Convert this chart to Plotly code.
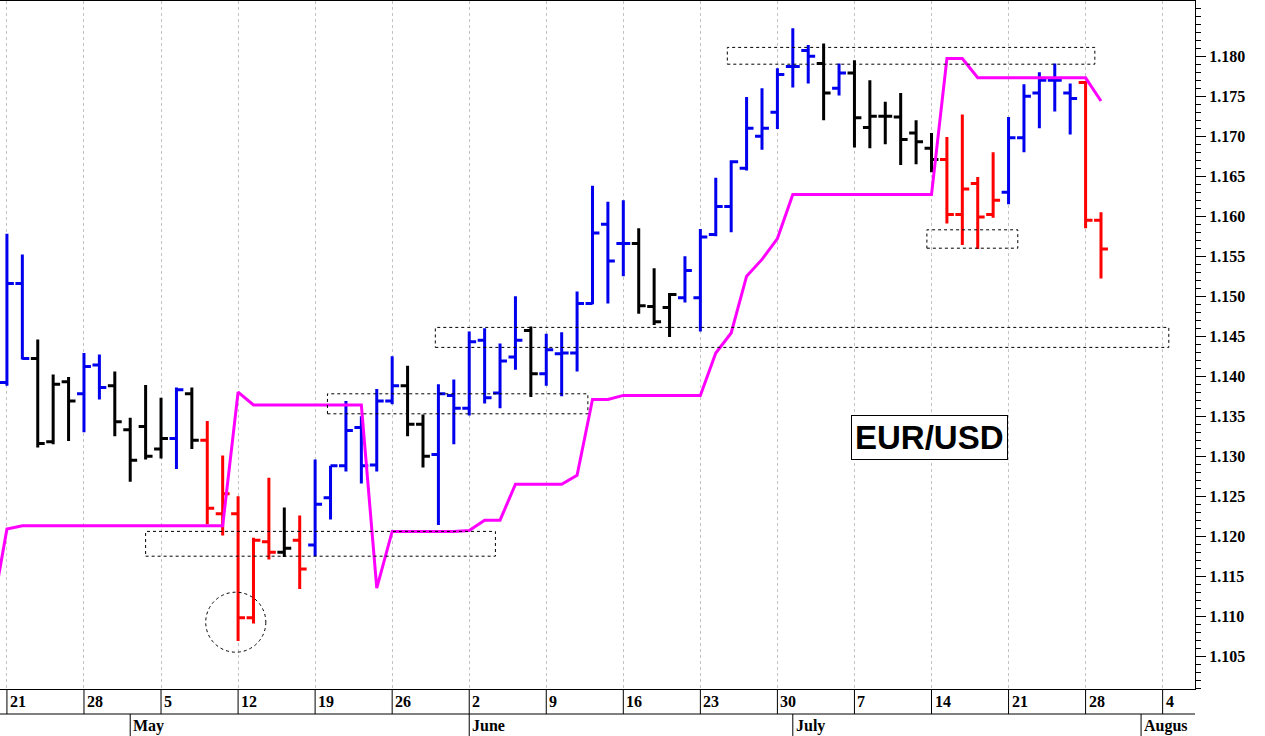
import plotly.graph_objects as go

# ---- data ----
opens = [1.1392,1.1516,1.1422,1.1318,1.1393,1.1378,1.1414,1.1388,1.1333,1.1337,
         1.1309,1.1322,1.1378,1.1320,1.1228,1.1228,1.1098,1.1193,1.1180,1.1195,
         1.1189,1.1248,1.1288,1.1336,1.1289,1.1369,1.1388,1.1340,1.1302,1.1376,
         1.1360,1.1445,1.1379,1.1424,1.1457,1.1403,1.1428,1.1429,1.1491,1.1590,
         1.1566,1.1566,1.1487,1.1486,1.1498,1.1498,1.1577,1.1612,1.1660,1.1700,
         1.1730,1.1787,1.1807,1.1791,1.1760,1.1779,1.1711,1.1725,1.1724,1.1704,
         1.1685,1.1671,1.1602,1.1641,1.1602,1.1630,1.1698,1.1754,1.1770,1.1754,
         1.1767,1.1595]
highs = [1.1578,1.1552,1.1446,1.1402,1.1399,1.1429,1.1427,1.1406,1.1348,1.1389,
         1.1373,1.1386,1.1386,1.1344,1.1301,1.1250,1.1198,1.1273,1.1236,1.1226,
         1.1296,1.1288,1.1369,1.1350,1.1384,1.1425,1.1413,1.1352,1.1390,1.1396,
         1.1456,1.1460,1.1441,1.1500,1.1462,1.1453,1.1455,1.1506,1.1638,1.1618,
         1.1620,1.1585,1.1535,1.1504,1.1550,1.1584,1.1648,1.1670,1.1749,1.1760,
         1.1785,1.1835,1.1814,1.1816,1.1791,1.1795,1.1770,1.1743,1.1754,1.1720,
         1.1704,1.1699,1.1727,1.1649,1.1680,1.1724,1.1765,1.1780,1.1791,1.1766,
         1.1769,1.1605]
lows = [1.1388,1.1421,1.1311,1.1315,1.1319,1.1330,1.1371,1.1325,1.1268,1.1296,
        1.1297,1.1284,1.1309,1.1215,1.1201,1.1069,1.1091,1.1171,1.1174,1.1134,
        1.1175,1.1221,1.1281,1.1266,1.1281,1.1365,1.1325,1.1286,1.1214,1.1315,
        1.1351,1.1366,1.1360,1.1408,1.1374,1.1388,1.1375,1.1406,1.1490,1.1491,
        1.1525,1.1478,1.1464,1.1449,1.1492,1.1456,1.1575,1.1580,1.1657,1.1683,
        1.1709,1.1761,1.1766,1.1720,1.1751,1.1686,1.1685,1.1690,1.1664,1.1665,
        1.1655,1.1591,1.1564,1.1559,1.1598,1.1615,1.1680,1.1710,1.1731,1.1702,
        1.1585,1.1522]
closes = [1.1516,1.1422,1.1316,1.1390,1.1369,1.1412,1.1386,1.1343,1.1295,1.1300,
          1.1322,1.1383,1.1320,1.1235,1.1253,1.1098,1.1195,1.1180,1.1185,1.1159,
          1.1240,1.1288,1.1332,1.1288,1.1369,1.1388,1.1340,1.1300,1.1378,1.1360,
          1.1443,1.1373,1.1419,1.1445,1.1403,1.1433,1.1429,1.1491,1.1579,1.1544,
          1.1566,1.1488,1.1468,1.1502,1.1532,1.1574,1.1612,1.1668,1.1710,1.1710,
          1.1777,1.1787,1.1800,1.1754,1.1779,1.1723,1.1725,1.1725,1.1696,1.1693,
          1.1671,1.1602,1.1634,1.1599,1.1620,1.1698,1.1750,1.1770,1.1770,1.1747,
          1.1595,1.1559]
bar_colors = list("bbkkkbbkkkkbkrrrrrkrbbbbbbkkbbbbbbkbbbbbbkkkbbbbbbbbbkbkkkkkkrrrrbbbbbrr")

# magenta line, starting one day before the first bar
line_vals = ([1.1100, 1.1209] + [1.1213]*14 + [1.1380] + [1.1364]*8 + [1.1135] +
             [1.1206]*5 + [1.1207, 1.1220, 1.1220] + [1.1265]*4 + [1.1276, 1.1371, 1.1371] +
             [1.1376]*6 + [1.1429, 1.1454, 1.1525, 1.1546, 1.1572] + [1.1627]*10 +
             [1.1797, 1.1797] + [1.1773]*8 + [1.1744])

week_ticks = [0, 5, 10, 15, 20, 25, 30, 35, 40, 45, 50, 55, 60, 65, 70, 75]
week_labels = ["21","28","5","12","19","26","2","9","16","23","30","7","14","21","28","4"]
month_pos = [8, 30, 51, 73.6]
month_labels = ["May", "June", "July", "Augus"]
price_ticks = [1.105, 1.110, 1.115, 1.120, 1.125, 1.130, 1.135, 1.140, 1.145,
               1.150, 1.155, 1.160, 1.165, 1.170, 1.175, 1.180]

boxes = [(9.0, 31.7, 1.1175, 1.1206), (20.8, 37.7, 1.1353, 1.1378),
         (27.8, 75.4, 1.1436, 1.1461), (46.75, 70.6, 1.1790, 1.1811),
         (59.7, 65.6, 1.1560, 1.1583)]
circle = (12.9, 16.8, 1.1055, 1.1130)

XR = [-0.45, 77.1]
YR = [1.1009, 1.1869]

fig = go.Figure()
cmap = {"b": "#0000ee", "k": "#000000", "r": "#ff0000"}
for code, col in cmap.items():
    idx = [i for i, c in enumerate(bar_colors) if c == code]
    fig.add_trace(go.Ohlc(
        x=idx, open=[opens[i] for i in idx], high=[highs[i] for i in idx],
        low=[lows[i] for i in idx], close=[closes[i] for i in idx],
        increasing=dict(line=dict(color=col, width=3)),
        decreasing=dict(line=dict(color=col, width=3)),
        tickwidth=0.45, showlegend=False, hoverinfo="skip"))

fig.add_trace(go.Scatter(x=list(range(-1, len(line_vals) - 1)), y=line_vals, mode="lines",
                         line=dict(color="#ff00ff", width=3), showlegend=False, hoverinfo="skip"))

shapes = []
for x0, x1, y0, y1 in boxes:
    shapes.append(dict(type="rect", x0=x0, x1=x1, y0=y0, y1=y1, xref="x", yref="y",
                       line=dict(color="black", width=1, dash="dot")))
shapes.append(dict(type="circle", x0=circle[0], x1=circle[1], y0=circle[2], y1=circle[3],
                   xref="x", yref="y", line=dict(color="black", width=1, dash="dot")))
r1, r2 = -25/688, -48/688
shapes.append(dict(type="line", x0=XR[0], x1=XR[1], y0=r1, y1=r1, xref="x", yref="paper",
                   line=dict(color="black", width=1)))
for t in week_ticks:
    shapes.append(dict(type="line", x0=t, x1=t, y0=0, y1=r1, xref="x", yref="paper",
                       line=dict(color="black", width=1)))
for m in month_pos:
    shapes.append(dict(type="line", x0=m, x1=m, y0=r1, y1=r2, xref="x", yref="paper",
                       line=dict(color="black", width=1)))

serif = dict(family="Liberation Serif", size=16, color="black", weight="bold")
ann = []
for t, lab in zip(week_ticks, week_labels):
    ann.append(dict(x=t, y=r1/2, xref="x", yref="paper", text=f"<b>{lab}</b>", showarrow=False,
                    xanchor="left", xshift=1, yanchor="middle", font=serif))
for m, lab in zip(month_pos, month_labels):
    ann.append(dict(x=m, y=(r1+r2)/2, xref="x", yref="paper", text=f"<b>{lab}</b>", showarrow=False,
                    xanchor="left", xshift=1, yanchor="middle", font=serif))
ann.append(dict(x=59.9, y=1.1323, xref="x", yref="y", text="<b>EUR/USD</b>", showarrow=False,
                font=dict(family="Liberation Sans", size=33, color="black"),
                bordercolor="black", borderwidth=1, borderpad=3, bgcolor="white"))

fig.update_layout(
    width=1265, height=736, margin=dict(l=0, r=70, t=1, b=47),
    plot_bgcolor="white", paper_bgcolor="white", shapes=shapes, annotations=ann,
    xaxis=dict(range=XR, tickvals=week_ticks, showticklabels=False, ticks="",
               showgrid=True, gridcolor="#c4c4c4", griddash="3px,3px", gridwidth=1,
               showline=True, linecolor="black", mirror=True, zeroline=False,
               rangeslider=dict(visible=False), fixedrange=True),
    yaxis=dict(range=YR, side="right", tickvals=price_ticks,
               ticktext=[f"{v:.3f}" for v in price_ticks],
               ticks="outside", ticklen=10, tickcolor="black", showgrid=False,
               showline=True, linecolor="black", mirror=True, zeroline=False,
               tickfont=dict(family="Liberation Serif", size=16, color="black", weight="bold"),
               minor=dict(dtick=0.001, tick0=1.1, ticks="outside", ticklen=5, tickcolor="black")),
)
fig.write_html("out.html", config={"displayModeBar": False},
               post_script="document.body.style.margin='0';document.body.style.overflow='hidden';")
